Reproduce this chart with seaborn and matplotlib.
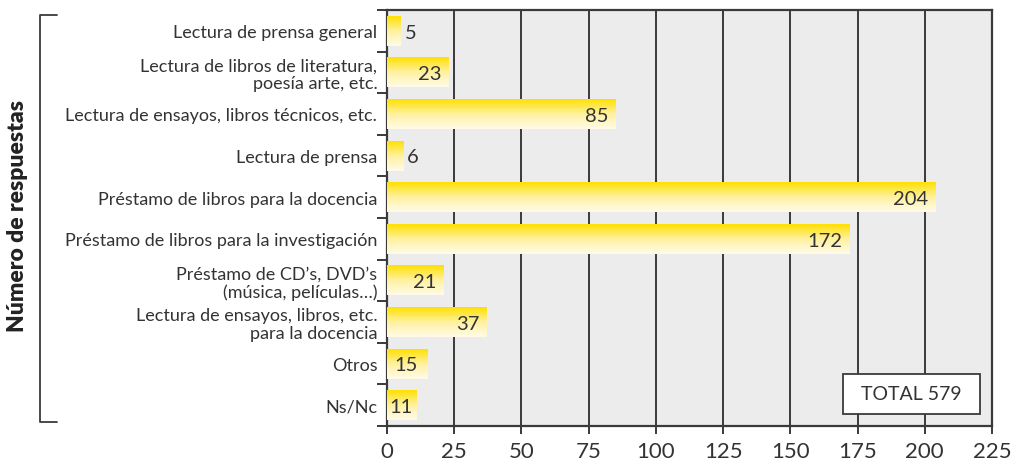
import numpy as np
import pandas as pd
import matplotlib
matplotlib.use("Agg")
import matplotlib.pyplot as plt
import seaborn as sns
from matplotlib.lines import Line2D
from matplotlib.patches import Rectangle
from matplotlib.colors import LinearSegmentedColormap
from matplotlib.ticker import FixedLocator

categories = [
    "Lectura de prensa general",
    "Lectura de libros de literatura,\npoesía arte, etc.",
    "Lectura de ensayos, libros técnicos, etc.",
    "Lectura de prensa",
    "Préstamo de libros para la docencia",
    "Préstamo de libros para la investigación",
    "Préstamo de CD’s, DVD’s\n(música, películas…)",
    "Lectura de ensayos, libros, etc.\npara la docencia",
    "Otros",
    "Ns/Nc",
]
values = [5, 23, 85, 6, 204, 172, 21, 37, 15, 11]
x_ticks = [0, 25, 50, 75, 100, 125, 150, 175, 200, 225]
total_label = "TOTAL 579"
axis_label = "Número de respuestas"

sns.set_theme(style="white")
plt.rcParams["font.family"] = ["Lato", "DejaVu Sans"]
TXT = "#333333"
LINE = "#3a3a3a"

df = pd.DataFrame({"cat": categories, "val": values})

fig = plt.figure(figsize=(10.2, 4.64), dpi=100)
ax = fig.add_axes([387 / 1020, 1 - 427 / 464, (992 - 387) / 1020, (427 - 11) / 464])
ax.set_facecolor("#ececec")

sns.barplot(data=df, x="val", y="cat", orient="h", ax=ax, width=0.72,
            color="#ffe000", saturation=1, zorder=3)

cmap = LinearSegmentedColormap.from_list("yel", ["#fffbea", "#fff1a0", "#ffe000"])
grad = np.linspace(0, 1, 256).reshape(-1, 1)
for p in ax.patches:
    x0, y0 = p.get_x(), p.get_y()
    w, h = p.get_width(), p.get_height()
    p.set_facecolor("none")
    p.set_edgecolor("none")
    im = ax.imshow(grad, cmap=cmap, aspect="auto", origin="lower",
                   extent=(x0, x0 + w, y0 + h, y0), zorder=3, interpolation="bilinear")
    im.set_clip_path(p)
ax.set_xlim(0, 225)
ax.set_ylim(len(categories) - 0.5, -0.5)

# value labels
VFS = 14.5
for i, v in enumerate(values):
    if v < 10:
        ax.annotate(str(v), (v, i), xytext=(3, -1), textcoords="offset points",
                    ha="left", va="center", fontsize=VFS, color=TXT, zorder=5)
    elif v < 20:
        ax.annotate(str(v), (0, i), xytext=(1.5 if v < 13 else 5, -1), textcoords="offset points",
                    ha="left", va="center", fontsize=VFS, color=TXT, zorder=5)
    else:
        ax.annotate(str(v), (v, i), xytext=(-5, -1), textcoords="offset points",
                    ha="right", va="center", fontsize=VFS, color=TXT, zorder=5)

# grid
ax.set_xticks(x_ticks)
ax.set_xticklabels([str(t) for t in x_ticks])
ax.grid(axis="x", color=LINE, linewidth=1.4, zorder=1)
ax.set_axisbelow(True)
ax.tick_params(axis="x", direction="out", length=6, width=1.4, color=LINE,
               labelsize=16, labelcolor=TXT, pad=5, bottom=True)

ax.set_yticks(range(len(categories)))
ax.set_yticklabels(categories, linespacing=1.1)
ax.yaxis.set_minor_locator(FixedLocator(np.arange(-0.5, len(categories), 1.0)))
ax.tick_params(axis="y", which="major", length=0, labelsize=13, labelcolor=TXT, pad=7)
ax.tick_params(axis="y", which="minor", direction="out", length=7, width=1.4, color=LINE, left=True)
for lbl in ax.get_yticklabels():
    lbl.set_horizontalalignment("right")

ax.set_xlabel("")
ax.set_ylabel("")
for s in ax.spines.values():
    s.set_visible(True)
    s.set_color(LINE)
    s.set_linewidth(1.6)

# total box
ax.add_patch(Rectangle((169.5, 8.25), 51, 0.96, facecolor="white", edgecolor=LINE,
                       linewidth=1.3, zorder=6))
ax.text(195, 8.73, total_label, ha="center", va="center", fontsize=14, color=TXT, zorder=7)

# bracket + axis title
W, H = 1020, 464
xs = [57 / W, 40 / W, 40 / W, 57 / W]
ys = [1 - 16 / H, 1 - 16 / H, 1 - 423 / H, 1 - 423 / H]
fig.add_artist(Line2D(xs, ys, color=LINE, linewidth=1.3))
fig.text(18 / W, 1 - 216 / H, axis_label, rotation=90, ha="center", va="center",
         fontsize=16.5, fontweight="heavy", color="#222222")

fig.savefig("out.png", dpi=100)
